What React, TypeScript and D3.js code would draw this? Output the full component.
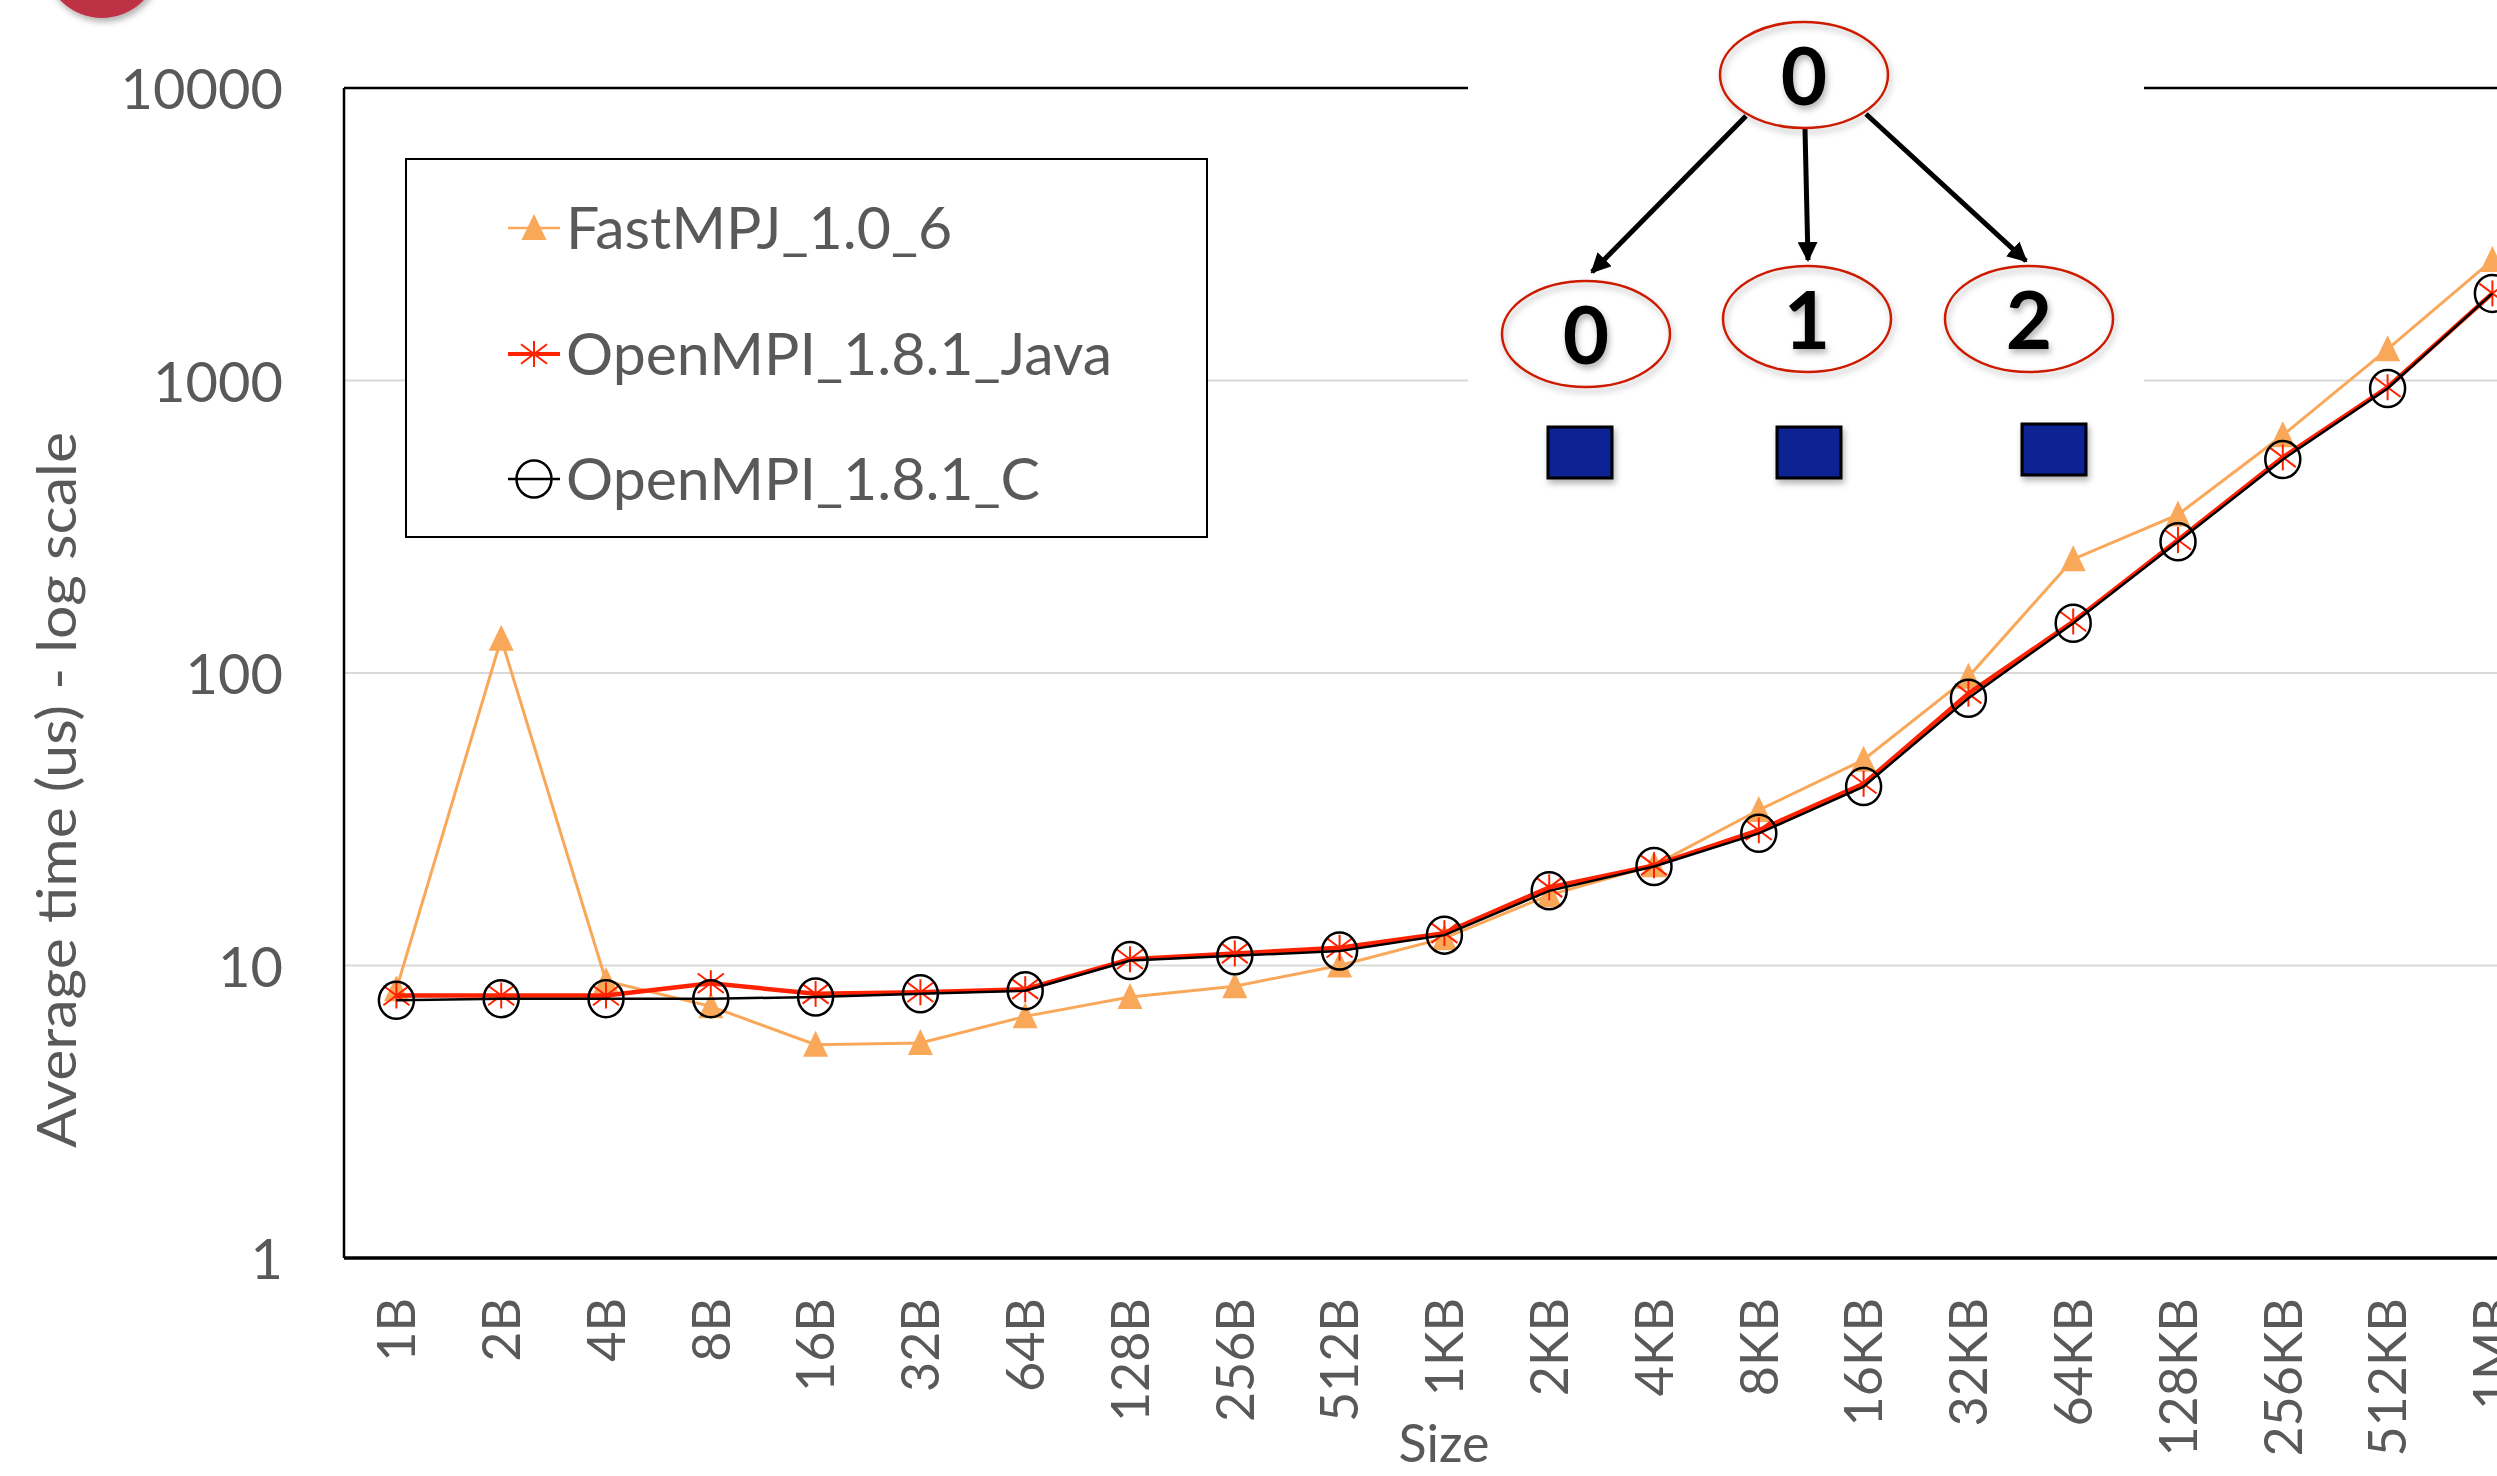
import React from "react";
import * as d3 from "d3";

// message sizes on the x axis
const categories = ["1B", "2B", "4B", "8B", "16B", "32B", "64B", "128B", "256B", "512B", "1KB", "2KB", "4KB", "8KB", "16KB", "32KB", "64KB", "128KB", "256KB", "512KB", "1MB"];

// average time in us
const fastMPJ = [8.3, 131, 8.85, 7.25, 5.36, 5.43, 6.7, 7.8, 8.5, 10, 12.4, 17.4, 22, 34, 50.5, 97, 245, 348, 650, 1280, 2580];
const openMPIJava = [7.9, 7.9, 7.9, 8.7, 8.0, 8.1, 8.3, 10.5, 11.0, 11.5, 12.9, 18.5, 22, 29, 41.8, 85, 150, 285, 546, 948, 1985];
const openMPIC = [7.6, 7.7, 7.7, 7.7, 7.8, 8.0, 8.2, 10.4, 10.8, 11.2, 12.7, 18.0, 21.8, 28.3, 40.9, 82, 148, 281, 537, 939, 1985];

const yTicks = [1, 10, 100, 1000, 10000];
const seriesNames = ["FastMPJ_1.0_6", "OpenMPI_1.8.1_Java", "OpenMPI_1.8.1_C"];

const W = 2497;
const H = 1476;
const left = 344;
const top = 88;
const bottom = 1258;
const step = 104.8;

const FONT = "Lato, 'Open Sans', sans-serif";
const GRAY = "#595959";
const ORANGE = "#F9A85A";
const RED = "#FF2200";

function Triangle({ x, y }: { x: number; y: number }) {
  return <path d={`M${x},${y - 14} L${x + 12.5},${y + 12} L${x - 12.5},${y + 12} Z`} fill={ORANGE} />;
}

function Star({ x, y }: { x: number; y: number }) {
  const r = 13;
  return (
    <g stroke={RED} strokeWidth={2}>
      <line x1={x} y1={y - r} x2={x} y2={y + r} />
      <line x1={x - r} y1={y - r * 0.75} x2={x + r} y2={y + r * 0.75} />
      <line x1={x - r} y1={y + r * 0.75} x2={x + r} y2={y - r * 0.75} />
    </g>
  );
}

function Circle({ x, y }: { x: number; y: number }) {
  return <ellipse cx={x} cy={y} rx={17.5} ry={18.5} fill="none" stroke="#000" strokeWidth={2.5} />;
}

export default function App() {
  const x = d3.scalePoint<string>().domain(categories).range([left + step / 2, left + step / 2 + step * (categories.length - 1)]);
  const y = d3.scaleLog().domain([1, 10000]).range([bottom, top]);

  const line = d3
    .line<number>()
    .x((_, i) => x(categories[i]) as number)
    .y((d) => y(d));

  const legendRows = [228, 354, 479];

  // tree picture pasted over the plot
  const nodes = [
    { cx: 1804, cy: 75, label: "0" },
    { cx: 1586, cy: 334, label: "0" },
    { cx: 1807, cy: 319, label: "1" },
    { cx: 2029, cy: 319, label: "2" },
  ];
  const arrows = [
    [1746, 116, 1592, 272],
    [1805, 129, 1808, 260],
    [1866, 114, 2026, 261],
  ];
  const squares = [1548, 1777, 2022];

  return (
    <svg width={W} height={H} style={{ position: "absolute", left: 0, top: 0, background: "#fff" }} fontFamily={FONT}>
      <defs>
        <filter id="shadow" x="-20%" y="-20%" width="140%" height="150%">
          <feDropShadow dx="2" dy="4" stdDeviation="3" floodColor="#000" floodOpacity="0.3" />
        </filter>
        <marker id="arrow" viewBox="0 0 10 10" refX="9" refY="5" markerWidth="4" markerHeight="4" orient="auto">
          <path d="M0,0 L10,5 L0,10 Z" fill="#000" />
        </marker>
      </defs>

      {/* red badge peeking in at top left */}
      <circle cx={102} cy={-40} r={58} fill="#BE3144" filter="url(#shadow)" />

      {/* gridlines */}
      {yTicks.slice(1, 4).map((t) => (
        <line key={t} x1={left} x2={W} y1={y(t)} y2={y(t)} stroke="#D9D9D9" strokeWidth={2} />
      ))}
      <line x1={left} x2={W} y1={y(10000)} y2={y(10000)} stroke="#000" strokeWidth={2.5} />
      <line x1={left} x2={left} y1={top} y2={bottom} stroke="#000" strokeWidth={2.5} />
      <line x1={left} x2={W} y1={bottom} y2={bottom} stroke="#000" strokeWidth={3.5} />

      {/* y tick labels */}
      {yTicks.map((t) => (
        <text key={t} x={283} y={y(t)} dy="0.38em" textAnchor="end" fontSize={56} fill={GRAY}>
          {t}
        </text>
      ))}

      {/* x tick labels */}
      {categories.map((c) => (
        <text
          key={c}
          transform={`translate(${x(c)},1298) rotate(-90)`}
          dy="0.36em"
          textAnchor="end"
          fontSize={52}
          fill={GRAY}
        >
          {c}
        </text>
      ))}

      <text x={1444} y={1462} textAnchor="middle" fontSize={52} fill={GRAY}>
        Size
      </text>
      <text transform="translate(76,790) rotate(-90)" textAnchor="middle" fontSize={54} fill={GRAY} textLength={716} lengthAdjust="spacingAndGlyphs">
        Average time (us) - log scale
      </text>

      {/* series */}
      <path d={line(fastMPJ) || ""} fill="none" stroke={ORANGE} strokeWidth={3} />
      {fastMPJ.map((v, i) => (
        <Triangle key={i} x={x(categories[i]) as number} y={y(v)} />
      ))}
      <path d={line(openMPIJava) || ""} fill="none" stroke={RED} strokeWidth={4.5} />
      {openMPIJava.map((v, i) => (
        <Star key={i} x={x(categories[i]) as number} y={y(v)} />
      ))}
      <path d={line(openMPIC) || ""} fill="none" stroke="#000" strokeWidth={2.5} />
      {openMPIC.map((v, i) => (
        <Circle key={i} x={x(categories[i]) as number} y={y(v)} />
      ))}

      {/* legend */}
      <rect x={406} y={159} width={801} height={378} fill="#fff" stroke="#000" strokeWidth={2} />
      {seriesNames.map((name, i) => {
        const ly = legendRows[i];
        return (
          <g key={name}>
            <line x1={508} x2={560} y1={ly} y2={ly} stroke={i === 0 ? ORANGE : i === 1 ? RED : "#000"} strokeWidth={i === 1 ? 4 : 2.5} />
            {i === 0 && <Triangle x={534} y={ly} />}
            {i === 1 && <Star x={534} y={ly} />}
            {i === 2 && <Circle x={534} y={ly} />}
            <text x={566} y={ly} dy="0.36em" fontSize={59} fill={GRAY}>
              {name}
            </text>
          </g>
        );
      })}

      {/* tree diagram */}
      <rect x={1468} y={0} width={676} height={500} fill="#fff" />
      {arrows.map((a, i) => (
        <line key={i} x1={a[0]} y1={a[1]} x2={a[2]} y2={a[3]} stroke="#000" strokeWidth={5} markerEnd="url(#arrow)" />
      ))}
      {nodes.map((n, i) => (
        <g key={i}>
          <ellipse cx={n.cx} cy={n.cy} rx={84} ry={53} fill="none" stroke="#CC1A00" strokeWidth={2.5} filter="url(#shadow)" />
          <text x={n.cx} y={n.cy + 30} textAnchor="middle" fontSize={80} fontWeight={700} fill="#000" filter="url(#shadow)">
            {n.label}
          </text>
        </g>
      ))}
      {squares.map((sx, i) => (
        <rect key={i} x={sx} y={i === 2 ? 424 : 427} width={64} height={51} fill="#0A2093" stroke="#000" strokeWidth={3} filter="url(#shadow)" />
      ))}
    </svg>
  );
}
